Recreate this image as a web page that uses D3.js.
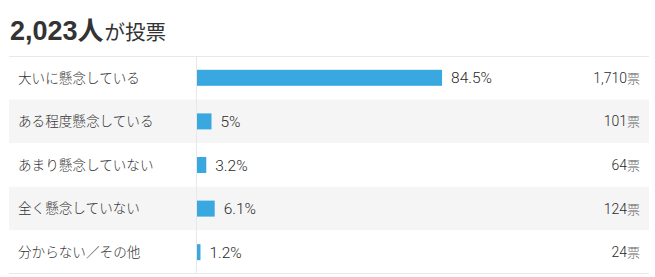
<!DOCTYPE html>
<html><head><meta charset="utf-8">
<script src="https://cdn.jsdelivr.net/npm/d3@7"></script>
<style>
html,body{margin:0;padding:0;background:#fff;}
svg{display:block;font-family:"Noto Sans CJK JP","Noto Sans",sans-serif;}
.num{font-family:"Liberation Sans","Noto Sans CJK JP",sans-serif;}
.lnum{font-family:Roboto,"Liberation Sans","Noto Sans CJK JP",sans-serif;font-weight:300;}
</style></head>
<body><svg id="c" width="655" height="277"></svg>
<script>
const totalVoters = "2,023";
const categories = ["大いに懸念している","ある程度懸念している","あまり懸念していない","全く懸念していない","分からない／その他"];
const percents = [84.5, 5, 3.2, 6.1, 1.2];
const percentLabels = ["84.5%","5%","3.2%","6.1%","1.2%"];
const votes = ["1,710","101","64","124","24"];

(function () {
const svg = d3.select("#c");
const yTop = 56, yBottom = 274, xLeft = 9, xRight = 649, divX = 196.5;

const title = svg.append("text").attr("x", 10).attr("y", 40).attr("fill", "#333");
title.append("tspan").attr("class", "num").attr("font-size", 27).attr("font-weight", 700).text(totalVoters);
title.append("tspan").attr("font-size", 26).attr("font-weight", 700).text("人");
title.append("tspan").attr("dx", 1).attr("font-size", 20.5).attr("font-weight", 400).text("が投票");

const y = d3.scaleBand().domain(d3.range(categories.length)).range([yTop, yBottom]);
const x = d3.scaleLinear().domain([0, 100]).range([197, 487]);

const rows = svg.append("g").selectAll("g").data(categories).join("g")
  .attr("transform", (d, i) => `translate(0,${y(i)})`);

rows.append("rect").attr("x", xLeft).attr("width", xRight - xLeft).attr("height", y.bandwidth())
  .attr("fill", (d, i) => i % 2 ? "#f5f5f5" : "#ffffff");

svg.append("line").attr("x1", xLeft).attr("x2", xRight).attr("y1", yTop + 0.5).attr("y2", yTop + 0.5)
  .attr("stroke", "#e8e8e8");
svg.append("line").attr("x1", xLeft).attr("x2", xRight).attr("y1", yBottom - 0.5).attr("y2", yBottom - 0.5)
  .attr("stroke", "#e8e8e8");
svg.append("line").attr("x1", divX).attr("x2", divX).attr("y1", yTop).attr("y2", yBottom)
  .attr("stroke", "#e8e8e8");

const bh = 16;
rows.append("text").attr("x", 18).attr("y", y.bandwidth() / 2).attr("dy", "0.36em")
  .attr("font-size", 13.6).attr("font-weight", 300).attr("fill", "#333").text(d => d);

rows.append("rect").attr("x", x(0)).attr("y", (y.bandwidth() - bh) / 2)
  .attr("width", (d, i) => x(percents[i]) - x(0)).attr("height", bh).attr("fill", "#39a8e0");

rows.append("text").attr("class", "lnum").attr("x", (d, i) => x(percents[i]) + 9).attr("y", y.bandwidth() / 2).attr("dy", "0.36em")
  .attr("font-size", 15.5).attr("fill", "#2a2a2a").text((d, i) => percentLabels[i]);

const vt = rows.append("text").attr("class", "lnum").attr("x", 640).attr("y", y.bandwidth() / 2).attr("dy", "0.36em")
  .attr("text-anchor", "end").attr("font-size", 14).attr("fill", "#2a2a2a");
vt.append("tspan").text((d, i) => votes[i]);
vt.append("tspan").attr("fill", "#666").attr("font-size", 13)
  .style("font-family", "'Noto Sans CJK JP',sans-serif").text("票");
})();
</script></body></html>
